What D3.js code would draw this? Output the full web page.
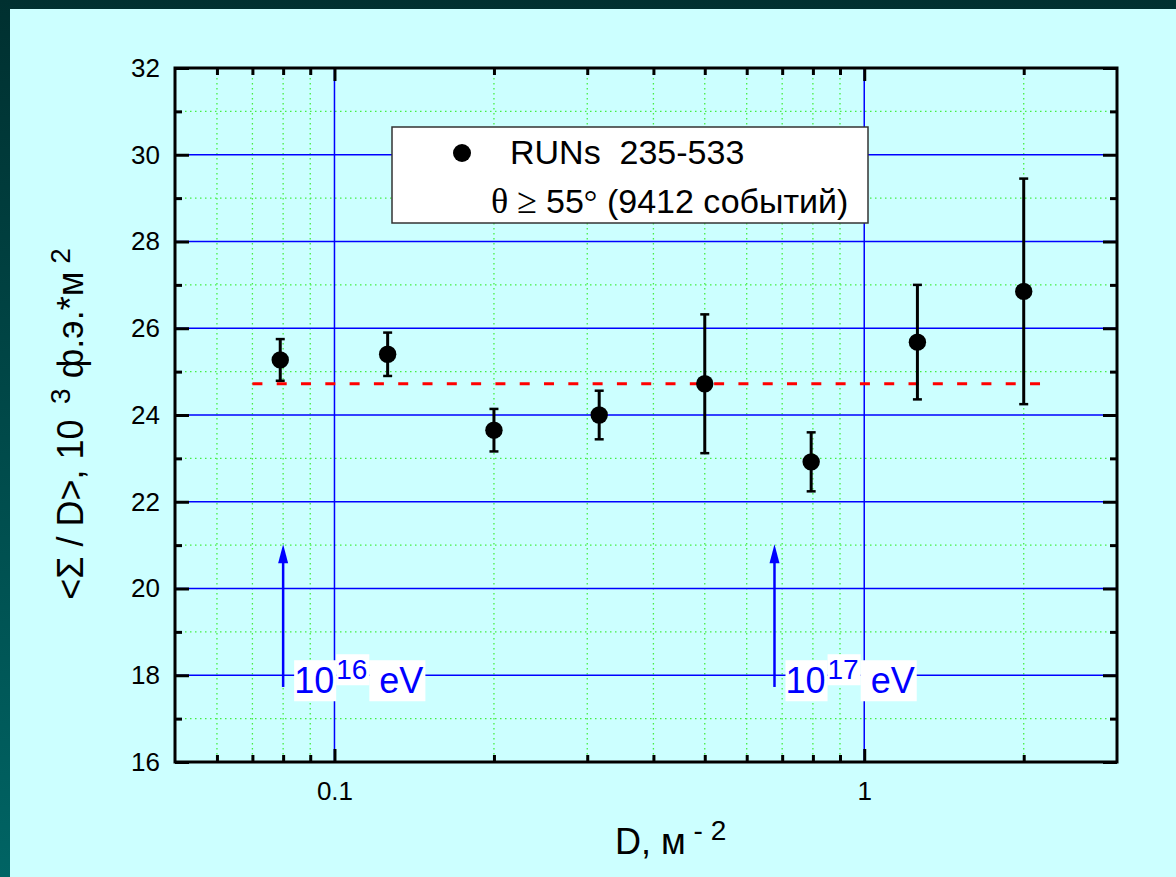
<!DOCTYPE html>
<html>
<head>
<meta charset="utf-8">
<script src="https://cdn.jsdelivr.net/npm/d3@7"></script>
<style>
  html, body { margin: 0; padding: 0; background: #003333; }
  svg { display: block; }
  text { font-family: "Liberation Sans", Arial, sans-serif; }
</style>
</head>
<body>
<svg id="chart" width="1176" height="877"></svg>
<script>
// Mean Σ/D against particle density D, with the overall mean level
const densities   = [0.079, 0.126, 0.2, 0.316, 0.5, 0.794, 1.26, 2.0];
const ratioMeans  = [25.27, 25.40, 23.65, 24.00, 24.72, 22.92, 25.68, 26.85];
const ratioErrors = [0.48, 0.50, 0.49, 0.56, 1.60, 0.68, 1.32, 2.60];

const meanLevel = 24.72;
const meanSpan  = [0.07, 2.17];

const xMajorTicks = [0.1, 1];
const xTickLabels = ["0.1", "1"];
const xMinorTicks = [0.06, 0.07, 0.08, 0.09, 0.2, 0.3, 0.4, 0.5, 0.6, 0.7, 0.8, 0.9, 2];
const yMajorTicks = [16, 18, 20, 22, 24, 26, 28, 30, 32];
const yMinorTicks = [17, 19, 21, 23, 25, 27, 29, 31];

// primary energy markers: density position and power of ten
const energyD    = [0.08, 0.677];
const energyExp  = ["16", "17"];
const arrowRange = [17.73, 21.02];

const legendLabel = "RUNs  235-533";
const legendNote  = "(9412 событий)";

const svg = d3.select("#chart");
const W = 1176, H = 877;

const x = d3.scaleLog().domain([0.05, 3]).range([175, 1117]);
const y = d3.scaleLinear().domain([16, 32]).range([762, 68]);
const [x0, x1] = x.range();
const [y0, y1] = y.range();

// page background
const defs = svg.append("defs");
const grad = defs.append("linearGradient").attr("id", "frameGrad")
  .attr("x1", 0).attr("y1", 0).attr("x2", 0).attr("y2", 1);
grad.append("stop").attr("offset", "0%").attr("stop-color", "#003030");
grad.append("stop").attr("offset", "100%").attr("stop-color", "#006464");
svg.append("rect").attr("width", W).attr("height", H).attr("fill", "url(#frameGrad)");
svg.append("rect").attr("x", 10).attr("y", 9).attr("width", W - 10).attr("height", H - 9)
  .attr("fill", "#ccffff");

// grid
const grid = svg.append("g");
grid.selectAll(".vmin").data(xMinorTicks).join("line")
  .attr("x1", d => x(d)).attr("x2", d => x(d)).attr("y1", y1).attr("y2", y0)
  .attr("stroke", "#44ee44").attr("stroke-width", 1.3).attr("stroke-dasharray", "1.5 3.5");
grid.selectAll(".hmin").data(yMinorTicks).join("line")
  .attr("x1", x0).attr("x2", x1).attr("y1", d => y(d)).attr("y2", d => y(d))
  .attr("stroke", "#44ee44").attr("stroke-width", 1.3).attr("stroke-dasharray", "1.5 3.5");
grid.selectAll(".vmaj").data(xMajorTicks).join("line")
  .attr("x1", d => x(d)).attr("x2", d => x(d)).attr("y1", y1).attr("y2", y0)
  .attr("stroke", "#0000ff").attr("stroke-width", 1.5);
grid.selectAll(".hmaj").data(yMajorTicks.slice(1, -1)).join("line")
  .attr("x1", x0).attr("x2", x1).attr("y1", d => y(d)).attr("y2", d => y(d))
  .attr("stroke", "#0000ff").attr("stroke-width", 1.5);

// energy arrows and labels
const marks = svg.append("g");
energyD.forEach((d, i) => {
  const ax = x(d);
  const tip = y(arrowRange[1]);
  marks.append("line")
    .attr("x1", ax).attr("x2", ax).attr("y1", y(arrowRange[0])).attr("y2", tip + 16)
    .attr("stroke", "#0000ff").attr("stroke-width", 2.5);
  marks.append("path")
    .attr("d", `M${ax},${tip} L${ax - 5},${tip + 19} L${ax + 5},${tip + 19} Z`)
    .attr("fill", "#0000ff");

  const runs = [
    { t: "10", size: 36, dy: 0 },
    { t: energyExp[i], size: 28, dy: -14 },
    { t: "\u00a0eV", size: 36, dy: 0 }
  ];
  const base = y(18) + 18;
  let cx = ax + 11;
  const lg = marks.append("g");
  runs.forEach(r => {
    const t = lg.append("text")
      .attr("x", cx).attr("y", base + r.dy)
      .attr("font-size", r.size).attr("fill", "#0000ff")
      .text(r.t);
    const bb = t.node().getBBox();
    lg.insert("rect", "text")
      .attr("x", bb.x).attr("y", bb.y).attr("width", bb.width + 2).attr("height", bb.height)
      .attr("fill", "#ffffff");
    cx += t.node().getComputedTextLength() + 2;
  });
});

// mean level
svg.append("line")
  .attr("x1", x(meanSpan[0])).attr("x2", x(meanSpan[1]))
  .attr("y1", y(meanLevel)).attr("y2", y(meanLevel))
  .attr("stroke", "#ff0000").attr("stroke-width", 3).attr("stroke-dasharray", "10 14.3");

// data points with error bars
const pts = densities.map((d, i) => ({ d, m: ratioMeans[i], e: ratioErrors[i] }));
const pg = svg.append("g");
pg.selectAll(".bar").data(pts).join("line")
  .attr("x1", p => x(p.d)).attr("x2", p => x(p.d))
  .attr("y1", p => y(p.m - p.e)).attr("y2", p => y(p.m + p.e))
  .attr("stroke", "#000").attr("stroke-width", 3);
pg.selectAll(".capT").data(pts).join("line")
  .attr("x1", p => x(p.d) - 4.5).attr("x2", p => x(p.d) + 4.5)
  .attr("y1", p => y(p.m + p.e)).attr("y2", p => y(p.m + p.e))
  .attr("stroke", "#000").attr("stroke-width", 2.5);
pg.selectAll(".capB").data(pts).join("line")
  .attr("x1", p => x(p.d) - 4.5).attr("x2", p => x(p.d) + 4.5)
  .attr("y1", p => y(p.m - p.e)).attr("y2", p => y(p.m - p.e))
  .attr("stroke", "#000").attr("stroke-width", 2.5);
pg.selectAll("circle").data(pts).join("circle")
  .attr("cx", p => x(p.d)).attr("cy", p => y(p.m)).attr("r", 8.7)
  .attr("fill", "#000");

// legend
const leg = svg.append("g");
leg.append("rect").attr("x", 392).attr("y", 127).attr("width", 476).attr("height", 96)
  .attr("fill", "#ffffff").attr("stroke", "#333").attr("stroke-width", 1.5);
leg.append("circle").attr("cx", 462).attr("cy", 153).attr("r", 9).attr("fill", "#000");
leg.append("text").attr("x", 510).attr("y", 164).attr("font-size", 34)
  .style("white-space", "pre").text(legendLabel);
const l2 = leg.append("text").attr("x", 491).attr("y", 213).attr("font-size", 34)
  .style("white-space", "pre");
l2.append("tspan").attr("font-family", "Liberation Serif, serif").attr("font-size", 36).text("θ ≥ ");
l2.append("tspan").text("55");
l2.append("tspan").attr("font-family", "Liberation Serif, serif").text("°");
l2.append("tspan").text(" " + legendNote);

// axes: ticks point inward on all four sides
function styleAxis(g) {
  g.select(".domain").remove();
  g.selectAll(".tick line").attr("stroke", "#000").attr("stroke-width", 3);
  g.selectAll(".tick text").attr("font-size", 26).attr("fill", "#000")
    .attr("font-family", "Liberation Sans, Arial, sans-serif");
}
svg.append("g").attr("transform", `translate(${x0},0)`)
  .call(d3.axisLeft(y).tickValues(yMajorTicks).tickSize(-14).tickPadding(15).tickSizeOuter(0))
  .call(styleAxis);
svg.append("g").attr("transform", `translate(${x0},0)`)
  .call(d3.axisLeft(y).tickValues(yMinorTicks).tickSize(-7).tickFormat("").tickSizeOuter(0))
  .call(styleAxis);
svg.append("g").attr("transform", `translate(${x1},0)`)
  .call(d3.axisRight(y).tickValues(yMajorTicks).tickSize(-14).tickFormat("").tickSizeOuter(0))
  .call(styleAxis);
svg.append("g").attr("transform", `translate(${x1},0)`)
  .call(d3.axisRight(y).tickValues(yMinorTicks).tickSize(-7).tickFormat("").tickSizeOuter(0))
  .call(styleAxis);
svg.append("g").attr("transform", `translate(0,${y0})`)
  .call(d3.axisBottom(x).tickValues(xMajorTicks).tickSize(-13).tickPadding(19.5)
    .tickFormat((d, i) => xTickLabels[i]).tickSizeOuter(0))
  .call(styleAxis);
svg.append("g").attr("transform", `translate(0,${y0})`)
  .call(d3.axisBottom(x).tickValues(xMinorTicks).tickSize(-7).tickFormat("").tickSizeOuter(0))
  .call(styleAxis);
svg.append("g").attr("transform", `translate(0,${y1})`)
  .call(d3.axisTop(x).tickValues(xMajorTicks).tickSize(-13).tickFormat("").tickSizeOuter(0))
  .call(styleAxis);
svg.append("g").attr("transform", `translate(0,${y1})`)
  .call(d3.axisTop(x).tickValues(xMinorTicks).tickSize(-7).tickFormat("").tickSizeOuter(0))
  .call(styleAxis);

svg.append("rect").attr("x", x0).attr("y", y1).attr("width", x1 - x0).attr("height", y0 - y1)
  .attr("fill", "none").attr("stroke", "#000").attr("stroke-width", 3);

// axis titles
const xt = svg.append("text").attr("x", 615).attr("y", 854).attr("font-size", 36)
  .style("white-space", "pre");
xt.append("tspan").text("D, м");
xt.append("tspan").attr("font-size", 28).attr("dy", -14).text(" - 2");

const yt = svg.append("text").attr("transform", "translate(83,424) rotate(-90)")
  .attr("text-anchor", "middle").attr("font-size", 36).style("white-space", "pre");
yt.append("tspan").text("<Σ / D>, 10");
yt.append("tspan").attr("font-size", 28).attr("dy", -13).text("  3");
yt.append("tspan").attr("dy", 13).text(" ф.э.*м");
yt.append("tspan").attr("font-size", 28).attr("dy", -13).text(" 2");
</script>
</body>
</html>
